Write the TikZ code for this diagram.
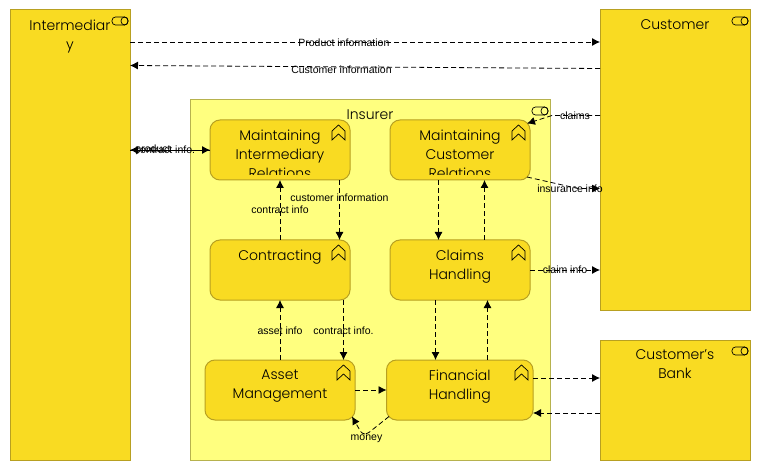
\documentclass[tikz,border=0pt]{standalone}
\usepackage{fontspec}
\setmainfont{Poppins Light}
\newfontfamily\flowfont{Liberation Sans}
\usetikzlibrary{arrows.meta}

\tikzset{
    title/.style 2 args={path picture={
        \clip (path picture bounding box.north west) rectangle ([yshift=5pt]path picture bounding box.south east);
        \node (#1) [anchor=north,inner sep=0pt,minimum width=0pt,minimum height=0pt,draw=none,fill=none,
            align=center,font=\fontsize{14}{19}\selectfont,text=black]
            at ([yshift=-10pt]path picture bounding box.north) {#2};}},
    actor/.style={draw=actorline,fill=actorfill,line width=1pt,inner sep=0pt,outer sep=0pt,anchor=north west},
    insurer/.style={actor,draw=insline,fill=insfill},
    proc/.style={actor,rounded corners=10pt},
    flow/.style={dashed,dash pattern=on 5pt off 3pt,line width=.8pt,-{Latex[length=8pt,width=8pt]}},
    flowlabel/.style={inner sep=0pt,font=\flowfont\fontsize{10.5}{12}\selectfont,text=black},
    chevron/.pic={\draw[line width=.7pt] (-6.5,6) -- (0,0) -- (6.5,6) -- (6.5,15) -- (0,9) -- (-6.5,15) -- cycle;},
    roleicon/.pic={\draw[line width=.7pt,rounded corners=3.5pt] (-16,0) rectangle (0,8);
        \draw[line width=.7pt] (-3.5,4) circle [x radius=3.5,y radius=4];},
}
\definecolor{actorfill}{HTML}{F9DB22}
\definecolor{actorline}{HTML}{B8A021}
\definecolor{insfill}{HTML}{FFFF7F}
\definecolor{insline}{HTML}{B7B24E}

\begin{document}
\begin{tikzpicture}[x=1pt,y=-1pt]
    \useasboundingbox (0,0) rectangle (760,470);

    \node[actor,minimum width=120pt,minimum height=450pt,title={imT}{Intermediar\\y}] (im) at (10,10) {};
    \node[actor,minimum width=150pt,minimum height=300pt,title={custT}{Customer}] (cust) at (600,10) {};
    \node[actor,minimum width=150pt,minimum height=120pt,title={bankT}{Customer's\\Bank}] (bank) at (600,340) {};
    \node[insurer,minimum width=360pt,minimum height=360pt,title={insT}{Insurer}] (ins) at (190,100) {};

    \node[proc,minimum width=140pt,minimum height=60pt,title={relImT}{Maintaining\\Intermediary\\Relations}] (relIm) at (210,120) {};
    \node[proc,minimum width=140pt,minimum height=60pt,title={relCuT}{Maintaining\\Customer\\Relations}] (relCu) at (390,120) {};
    \node[proc,minimum width=140pt,minimum height=60pt,title={contrT}{Contracting}] (contr) at (210,240) {};
    \node[proc,minimum width=140pt,minimum height=60pt,title={claimsT}{Claims\\Handling}] (claims) at (390,240) {};
    \node[proc,minimum width=150pt,minimum height=60pt,title={assetT}{Asset\\Management}] (asset) at (205,360) {};
    \node[proc,minimum width=146.5pt,minimum height=60pt,title={finT}{Financial\\Handling}] (fin) at (386.5,360) {};

    \foreach \n in {im,cust,bank,ins}
        \pic at ([shift={(-2,7)}]\n.north east) {roleicon};
    \foreach \n in {relIm,relCu,contr,claims,asset,fin}
        \pic at ([shift={(-11.5,5)}]\n.north east) {chevron};

    \coordinate (claimsBend) at (552,115.5);
    \coordinate (insBend) at (578,188.5);
    \coordinate (moneyBot) at (367,434);

    \draw[flow] (im.east |- 0,42) -- (cust.west |- 0,42) node[flowlabel,pos=.455,yshift=-1pt] (lProd) {Product information};
    \draw[flow] (cust.west |- 0,68.5) -- (im.east |- 0,65.5) node[flowlabel,pos=.55,yshift=-3pt] (lCust) {Customer information};
    \draw[flow] (im.east |- 0,150) -- (relIm.west |- 0,150) node[flowlabel,pos=.5,xshift=-17pt] (lProdIm) {product};
    \draw[flow] (relIm.west |- 0,150) -- (im.east |- 0,150) node[flowlabel,pos=.5,xshift=-5pt] (lContrIm) {contract info.};

    \draw[flow] (cust.west |- 0,115.5) -- (claimsBend) -- (527,123.5) node[flowlabel,pos=0,xshift=23pt] (lClaims) {claims};
    \draw[flow] (527,177) -- (insBend) -- (cust.west |- 0,188.5) node[flowlabel,pos=0,xshift=-8pt] (lIns) {insurance info};

    \draw[flow] (relCu.south -| 438.5,0) -- (claims.north -| 438.5,0);
    \draw[flow] (claims.north -| 484.5,0) -- (relCu.south -| 484.5,0);
    \draw[flow] (contr.north -| 280,0) -- (relIm.south -| 280,0) node[flowlabel,midway] (lContr) {contract info};
    \draw[flow] (relIm.south -| 339.5,0) -- (contr.north -| 339.5,0) node[flowlabel,pos=.3] (lCustIn) {customer information};

    \draw[flow] (claims.east |- 0,270) -- (cust.west |- 0,270) node[flowlabel,midway] (lClaim) {claim info};
    \draw[flow] (claims.south -| 435.5,0) -- (fin.north -| 435.5,0);
    \draw[flow] (fin.north -| 487.5,0) -- (claims.south -| 487.5,0);
    \draw[flow] (asset.north -| 280,0) -- (contr.south -| 280,0) node[flowlabel,midway,yshift=-1pt] (lAsset) {asset info};
    \draw[flow] (contr.south -| 343.5,0) -- (asset.north -| 343.5,0) node[flowlabel,midway,yshift=-1pt] (lContr2) {contract info.};

    \draw[flow] (asset.east |- 0,390) -- (fin.west |- 0,390);
    \draw[flow,rounded corners=3pt] (389,416.5) -- (moneyBot) -- (362,434) -- (352,416.5);
    \node[flowlabel] (lMoney) at (366.5,439) {money};
    \draw[flow] (fin.east |- 0,378) -- (bank.west |- 0,378);
    \draw[flow] (bank.west |- 0,413) -- (fin.east |- 0,413);

\end{tikzpicture}
\end{document}
